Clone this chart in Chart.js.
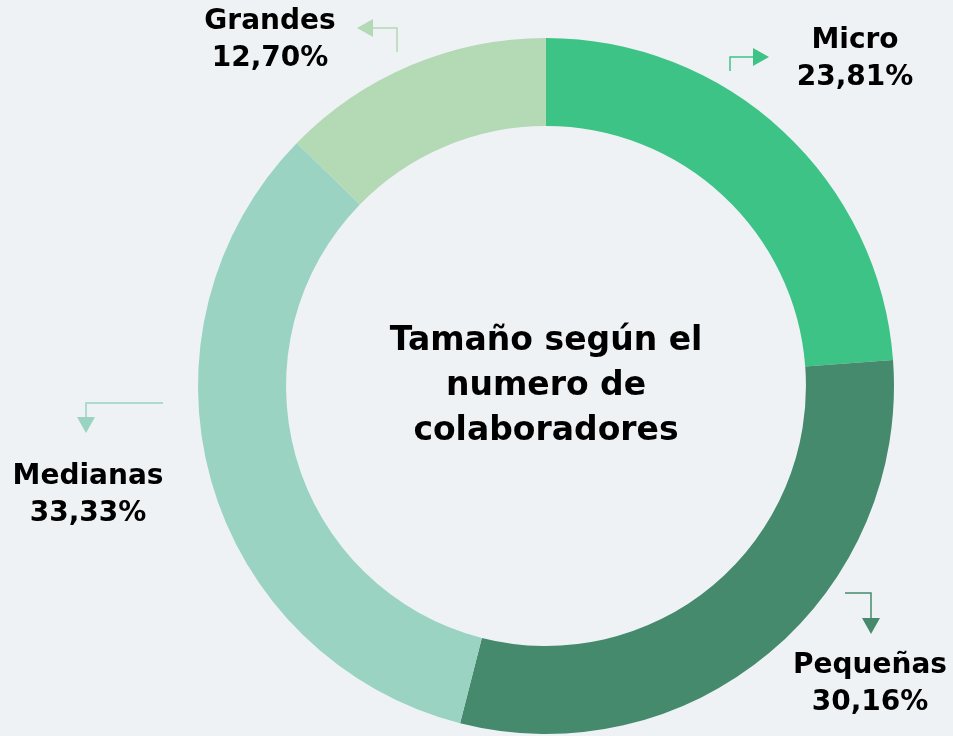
<!doctype html>
<html lang="es">
<head>
<meta charset="utf-8">
<title>Tamaño según el numero de colaboradores</title>
<script src="https://cdn.jsdelivr.net/npm/chart.js@4.4.0/dist/chart.umd.min.js"></script>
<style>
  html, body { margin: 0; padding: 0; background: #eff2f5; }
  canvas { display: block; }
</style>
</head>
<body>
<canvas id="chart" width="953" height="736"></canvas>
<script>
// datos
var etiquetas = ['Micro', 'Pequeñas', 'Medianas', 'Grandes'];
var porcentajes = [23.81, 30.16, 33.33, 12.70];
var colores = ['#3dc386', '#458a6c', '#9ad3c2', '#b3d9b5'];
var titulo = ['Tamaño según el', 'numero de', 'colaboradores'];

var fuente = '"DejaVu Sans", sans-serif';

// donde va cada etiqueta y su flechita (como en la diapositiva)
var notas = [
  { x: 855, y: 41, flecha: [[730, 71], [730, 57], [754, 57]], punta: [769, 57], dir: 'der' },
  { x: 870, y: 666, flecha: [[845, 593], [871, 593], [871, 619]], punta: [871, 634], dir: 'abajo' },
  { x: 88, y: 477, flecha: [[163, 403], [86, 403], [86, 418]], punta: [86, 433], dir: 'abajo' },
  { x: 270, y: 22, flecha: [[397, 52], [397, 28], [372, 28]], punta: [357, 28], dir: 'izq' }
];

function formato(v) {
  return v.toFixed(2).replace('.', ',') + '%';
}

var textos = {
  id: 'textos',
  afterDraw: function (chart) {
    var ctx = chart.ctx;
    var arco = chart.getDatasetMeta(0).data[0];
    ctx.save();
    ctx.fillStyle = '#000';
    ctx.textAlign = 'center';
    ctx.textBaseline = 'middle';

    // titulo al centro
    ctx.font = 'bold 33px ' + fuente;
    for (var i = 0; i < titulo.length; i++) {
      ctx.fillText(titulo[i], arco.x, arco.y - 45 + i * 45);
    }

    // etiquetas con su flecha
    for (var j = 0; j < etiquetas.length; j++) {
      var n = notas[j];
      ctx.fillStyle = '#000';
      ctx.font = 'bold 28px ' + fuente;
      ctx.fillText(etiquetas[j], n.x, n.y);
      ctx.fillText(formato(porcentajes[j]), n.x, n.y + 37);

      ctx.strokeStyle = colores[j];
      ctx.lineWidth = 1.5;
      ctx.beginPath();
      ctx.moveTo(n.flecha[0][0], n.flecha[0][1]);
      for (var k = 1; k < n.flecha.length; k++) ctx.lineTo(n.flecha[k][0], n.flecha[k][1]);
      ctx.stroke();

      var px = n.punta[0], py = n.punta[1];
      ctx.fillStyle = colores[j];
      ctx.beginPath();
      ctx.moveTo(px, py);
      if (n.dir === 'der') { ctx.lineTo(px - 16, py - 9); ctx.lineTo(px - 16, py + 9); }
      if (n.dir === 'izq') { ctx.lineTo(px + 16, py - 9); ctx.lineTo(px + 16, py + 9); }
      if (n.dir === 'abajo') { ctx.lineTo(px - 9, py - 16); ctx.lineTo(px + 9, py - 16); }
      ctx.closePath();
      ctx.fill();
    }
    ctx.restore();
  }
};

new Chart(document.getElementById('chart').getContext('2d'), {
  type: 'doughnut',
  data: {
    labels: etiquetas,
    datasets: [{
      data: porcentajes,
      backgroundColor: colores,
      borderWidth: 0
    }]
  },
  options: {
    responsive: false,
    animation: false,
    cutout: '74.7%',
    layout: { padding: { left: 198, right: 59, top: 38, bottom: 2 } },
    plugins: {
      legend: { display: false },
      tooltip: { enabled: false }
    }
  },
  plugins: [textos]
});
</script>
</body>
</html>
